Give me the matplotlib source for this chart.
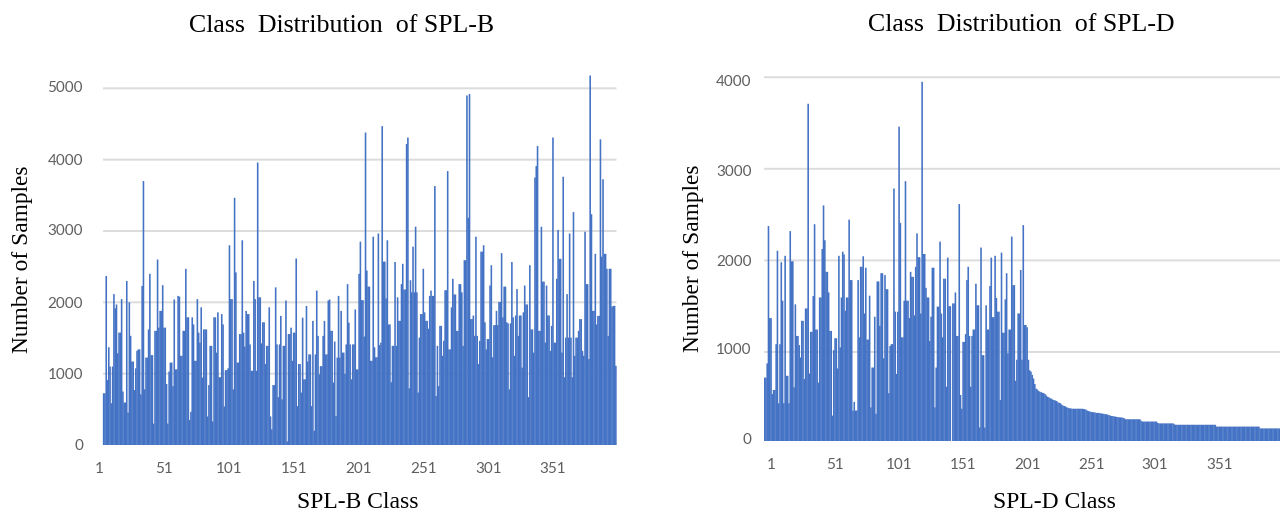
import matplotlib
matplotlib.use("Agg")
import matplotlib.pyplot as plt
import numpy as np

# values, one per class
splb_counts = [
    725, 725, 2370, 910, 1370, 1100, 585, 1100, 2115, 1915, 1970, 1285, 1575, 1575, 2045, 750, 595, 595, 2300, 455,
    2000, 1530, 1170, 1170, 770, 1075, 1320, 1340, 1340, 710, 2230, 3700, 780, 1225, 1225, 1620, 2400, 1260, 1260, 300,
    1600, 1600, 2600, 1645, 1880, 1880, 2240, 1645, 1645, 855, 300, 1030, 1155, 1155, 825, 2040, 1060, 1060, 2090, 2080,
    1250, 1250, 1600, 1600, 2470, 1790, 1790, 350, 465, 1790, 1690, 1180, 1180, 2045, 1575, 1435, 1930, 945, 1620, 1620,
    1620, 400, 840, 1390, 1390, 330, 1790, 1790, 1295, 1860, 950, 950, 1835, 1690, 540, 1050, 1050, 1075, 2800, 2045,
    2045, 780, 3465, 2420, 1155, 1155, 1555, 1555, 2870, 1575, 1380, 1880, 1835, 1835, 1410, 1040, 1040, 2300, 2045, 1040,
    3960, 2070, 2070, 1425, 1720, 1720, 1135, 1390, 1390, 1930, 400, 220, 840, 840, 2210, 1410, 670, 1410, 1810, 640,
    1390, 1390, 2025, 50, 1555, 1555, 1645, 1180, 1575, 1575, 2615, 545, 1135, 1135, 735, 1785, 920, 920, 1950, 1170,
    1270, 1270, 545, 1740, 200, 1270, 2165, 1530, 990, 1105, 1105, 1530, 1740, 1270, 1270, 2025, 2040, 1600, 1600, 875,
    1450, 405, 1225, 2090, 1225, 1880, 1295, 1295, 995, 1410, 2255, 1715, 1410, 920, 1410, 1410, 1900, 1060, 1060, 2400,
    2850, 2030, 2030, 1520, 4380, 2445, 2220, 2220, 1180, 1180, 2920, 1370, 1230, 1230, 2965, 1400, 1435, 4470, 2570, 2570,
    2055, 2870, 1690, 1690, 880, 1390, 1390, 2565, 1390, 2070, 1740, 1740, 2255, 2540, 2180, 2180, 4220, 4310, 795, 2310,
    2140, 2780, 2140, 3060, 2140, 735, 1505, 1835, 1835, 2470, 1860, 1740, 1740, 1630, 2090, 2165, 2090, 2090, 3630, 685,
    1390, 825, 1670, 1670, 1250, 1460, 2170, 2170, 3840, 1340, 1340, 1930, 2330, 2110, 2110, 1600, 1600, 2255, 2255, 2140,
    1390, 2590, 2590, 4900, 3185, 4920, 1765, 1765, 1815, 1530, 2920, 1530, 1135, 1460, 2710, 2710, 2800, 1720, 1340, 1485,
    1485, 2235, 2520, 1230, 1680, 1680, 1880, 1680, 2005, 2005, 2690, 1790, 2220, 2220, 1720, 1705, 780, 1705, 2565, 1790,
    1250, 1815, 2185, 1530, 1815, 1815, 1085, 1860, 2235, 1970, 1970, 670, 2520, 1620, 1620, 1295, 3750, 3910, 4190, 1600,
    1600, 3060, 2290, 2290, 1435, 2235, 1815, 1815, 1320, 1670, 4310, 1435, 1435, 2330, 3015, 2610, 2610, 1295, 3760, 950,
    1505, 2115, 1505, 2965, 1505, 950, 3265, 1250, 1505, 1505, 1600, 1765, 1765, 1320, 1250, 2990, 2255, 2255, 1205, 5180,
    3235, 1880, 1880, 2680, 1690, 1810, 1810, 4285, 2640, 3725, 2680, 2680, 2470, 1530, 2470, 2470, 1940, 1950, 1950, 1110,
]

spld_counts = [
    720, 720, 875, 2375, 1370, 1370, 540, 585, 585, 1085, 2105, 440, 1085, 1980, 1560, 440, 2050, 740, 740, 440,
    2320, 1990, 1990, 615, 1520, 1175, 1175, 1075, 940, 1340, 1340, 705, 1475, 1475, 3710, 765, 1220, 1220, 1610, 2395,
    1245, 1245, 665, 1595, 1595, 2125, 2600, 2220, 1875, 1875, 1650, 1230, 1230, 305, 1020, 1150, 1150, 820, 2050, 1050,
    1595, 2095, 2065, 1450, 1595, 1595, 2445, 1785, 1785, 360, 455, 360, 360, 1785, 1160, 1930, 1930, 2045, 1420, 1920,
    1135, 1135, 1615, 395, 830, 830, 1385, 325, 1770, 1770, 1285, 1860, 1860, 930, 1840, 1685, 1685, 550, 1065, 1085,
    1085, 2785, 1440, 760, 1440, 3460, 2410, 1160, 1160, 1560, 2865, 1560, 1560, 1370, 1875, 1820, 1820, 1400, 1930, 2295,
    2035, 2035, 1420, 3950, 2070, 2070, 1700, 1595, 1595, 1120, 1385, 1920, 1920, 395, 830, 1495, 1495, 2205, 1420, 1160,
    1800, 1800, 620, 2030, 1500, 1500, 0, 1530, 1530, 1650, 1175, 1175, 2615, 530, 380, 1110, 1110, 1195, 1785, 1930,
    1175, 620, 1175, 1245, 1245, 1745, 1510, 1510, 175, 2140, 965, 965, 175, 1510, 1245, 1245, 1720, 2030, 1380, 1380,
    2050, 1590, 1440, 1440, 475, 2085, 1210, 1210, 1575, 1860, 985, 1245, 1245, 2260, 1730, 1730, 685, 915, 1420, 1420,
    1895, 915, 2385, 1295, 1295, 1270, 915, 800, 785, 750, 710, 650, 600, 590, 575, 565, 560, 555, 550, 540,
    525, 510, 505, 495, 490, 480, 475, 470, 465, 450, 445, 440, 425, 415, 410, 405, 395, 390, 385, 385,
    380, 380, 380, 380, 380, 380, 380, 380, 380, 378, 375, 370, 360, 355, 350, 345, 345, 340, 340, 335,
    335, 335, 330, 330, 325, 325, 320, 320, 315, 310, 305, 300, 300, 295, 295, 290, 290, 285, 285, 285,
    280, 275, 265, 265, 265, 265, 265, 265, 265, 265, 265, 265, 265, 265, 250, 240, 240, 240, 240, 240,
    240, 240, 240, 240, 240, 240, 240, 225, 220, 220, 220, 220, 220, 220, 220, 220, 220, 220, 220, 220,
    210, 205, 205, 205, 205, 205, 205, 205, 205, 205, 205, 205, 205, 205, 205, 205, 205, 205, 205, 205,
    205, 205, 205, 205, 205, 205, 205, 205, 205, 205, 205, 205, 205, 185, 185, 185, 185, 185, 185, 185,
    185, 185, 185, 185, 185, 185, 185, 185, 185, 185, 185, 185, 185, 185, 185, 185, 185, 185, 185, 185,
    185, 185, 185, 185, 185, 185, 185, 165, 165, 165, 165, 165, 165, 165, 165, 165, 165, 165, 165, 165,
    165, 165, 165,
]

x_tick_labels = ["1", "51", "101", "151", "201", "251", "301", "351"]

splb_grid = [1000, 2000, 3000, 4000, 5000]
splb_ylabels = ["0", "1000", "2000", "3000", "4000", "5000"]
spld_grid = [1000, 2000, 3000, 4000]
spld_ylabels = ["0", "1000", "2000", "3000", "4000"]

BAR_COLOR = "#4472C4"
GRID_COLOR = "#DCDCDC"
TICK_COLOR = "#5F5F5F"
SERIF = "Liberation Serif"

# sub-pixel bars, so single spikes come out pale the way they do in the picture
plt.rcParams["path.snap"] = False

W, H = 1280, 512
fig = plt.figure(figsize=(W / 100, H / 100), dpi=100)


def draw_panel(box, x_low, counts, ylim, grid, xlabel_pos, label_pos, labels, pad_x, pad_y):
    left, right, top, bottom = box
    ax = fig.add_axes([left / W, 1 - bottom / H, (right - left) / W, (bottom - top) / H])
    classes = np.arange(1, len(counts) + 1)
    # a bit wider than the slot, otherwise antialiasing leaves seams between bars
    ax.bar(classes, counts, width=1.25, color=BAR_COLOR, linewidth=0, zorder=2)
    ax.hlines(grid, 0.5, len(counts) + 0.5, color=GRID_COLOR, linewidth=1.4, zorder=1)

    # the tick labels sit a little off the bars in the original
    ax.set_xticks(xlabel_pos, x_tick_labels)
    ax.set_yticks(label_pos, labels)
    ax.set_xlim(x_low, len(counts) + 0.5)
    ax.set_ylim(ylim)
    ax.tick_params(axis="x", length=0, pad=pad_x, labelsize=11, labelcolor=TICK_COLOR)
    ax.tick_params(axis="y", length=0, pad=pad_y, labelsize=11, labelcolor=TICK_COLOR)
    for tick in ax.get_xticklabels() + ax.get_yticklabels():
        tick.set_fontfamily("Lato")
    for spine in ax.spines.values():
        spine.set_visible(False)
    ax.patch.set_alpha(0)
    return ax


# left edge of the first panel is pushed out so the "1" label still fits in the view
draw_panel((93, 616.5, 60, 445), -7.3, splb_counts, (0, 5397), splb_grid,
           [-2.6, 48.1, 98.7, 149.4, 199.3, 250, 300.7, 350.6],
           [0, 1009, 2004, 3014, 4009, 5032], splb_ylabels, 12, 7.2)
draw_panel((764, 1280, 60, 441), 0.5, spld_counts, (28, 4188), spld_grid,
           [6, 56, 106, 156, 206, 256, 306, 356.5],
           [50, 1033, 2003, 2986, 3959], spld_ylabels, 12, 9)


def px_text(x, y, s, size, **kw):
    fig.text(x / W, 1 - y / H, s, ha="center", va="center", family=SERIF, fontsize=size, color="black", **kw)


px_text(342, 26, "Class  Distribution  of SPL-B", 18.6)
px_text(1021, 25, "Class  Distribution  of SPL-D", 18.6)
px_text(358, 503, "SPL-B Class", 17)
px_text(1054, 502, "SPL-D Class", 17)
px_text(23, 259, "Number of Samples", 16.8, rotation=90)
px_text(693, 258, "Number of Samples", 16.8, rotation=90)

fig.savefig("out.png", dpi=100)
